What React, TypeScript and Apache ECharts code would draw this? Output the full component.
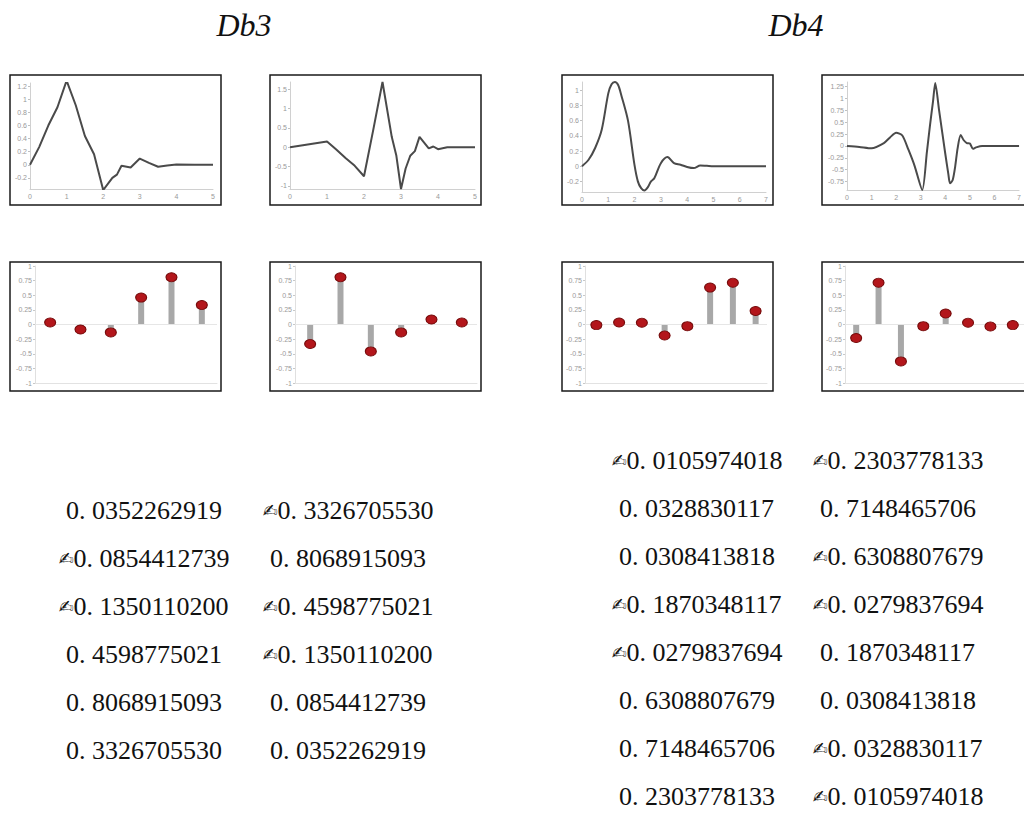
import React, { useEffect, useRef } from "react";
import * as echarts from "echarts";

// ---------- data ----------
const titles = ["Db3", "Db4"];

const db3PhiX = [0, 0.25, 0.5, 0.75, 1, 1.25, 1.5, 1.75, 2, 2.25, 2.375, 2.5, 2.75, 3, 3.25, 3.5, 3.75, 4, 4.5, 5];
const db3PhiY = [0, 0.27, 0.6, 0.88, 1.286, 0.91, 0.44, 0.16, -0.386, -0.2, -0.15, -0.015, -0.04, 0.095, 0.03, -0.03, -0.01, 0.004, 0, 0];

const db3PsiX = [0, 1, 1.25, 1.5, 1.75, 2, 2.25, 2.5, 2.75, 2.875, 3, 3.125, 3.25, 3.375, 3.5, 3.75, 3.875, 4, 4.25, 5];
const db3PsiY = [0, 0.15, -0.06, -0.28, -0.48, -0.75, 0.45, 1.69, 0.27, -0.22, -1.08, -0.55, -0.22, -0.1, 0.27, -0.03, 0.02, -0.05, 0, 0];

const db4PhiX = [0, 0.25, 0.5, 0.75, 1, 1.125, 1.25, 1.375, 1.5, 1.75, 2, 2.125, 2.25, 2.375, 2.5, 2.625, 2.75, 3, 3.25, 3.5, 3.75, 4, 4.25, 4.5, 4.75, 5, 5.5, 6, 7];
const db4PhiY = [0, 0.085, 0.24, 0.48, 0.96, 1.08, 1.11, 1.07, 0.93, 0.6, 0.01, -0.2, -0.29, -0.32, -0.28, -0.2, -0.16, 0.04, 0.12, 0.04, 0.02, -0.01, -0.025, 0.01, 0.005, 0, 0, 0, 0];

const db4PsiX = [0, 0.5, 1, 1.5, 1.75, 2, 2.25, 2.5, 2.75, 3.0625, 3.25, 3.375, 3.5, 3.59, 3.75, 4, 4.125, 4.19, 4.3, 4.4, 4.5, 4.625, 4.75, 4.875, 5, 5.125, 5.25, 5.5, 6, 7];
const db4PsiY = [0, -0.02, -0.05, 0.06, 0.18, 0.28, 0.22, -0.08, -0.42, -0.93, -0.13, 0.43, 0.94, 1.33, 0.74, -0.17, -0.6, -0.79, -0.72, -0.44, -0.05, 0.23, 0.12, 0.06, 0.05, -0.06, -0.03, 0, 0, 0];

const db3Low = [0.0352262919, -0.0854412739, -0.13501102, 0.4598775021, 0.8068915093, 0.332670553];
const db3High = [-0.332670553, 0.8068915093, -0.4598775021, -0.13501102, 0.0854412739, 0.0352262919];
const db4Low = [-0.0105974018, 0.0328830117, 0.0308413818, -0.1870348117, -0.0279837694, 0.6308807679, 0.7148465706, 0.2303778133];
const db4High = [-0.2303778133, 0.7148465706, -0.6308807679, -0.0279837694, 0.1870348117, 0.0308413818, -0.0328830117, -0.0105974018];

// ---------- layout ----------
const lineDefs = [
  { x: db3PhiX, y: db3PhiY, xMax: 5, yMin: -0.37, yMax: 1.25, step: 0.2, smooth: false, grid: { left: 30, top: 83, width: 183, height: 106 } },
  { x: db3PsiX, y: db3PsiY, xMax: 5, yMin: -1.08, yMax: 1.69, step: 0.5, smooth: false, grid: { left: 290, top: 82, width: 185, height: 107 } },
  { x: db4PhiX, y: db4PhiY, xMax: 7, yMin: -0.34, yMax: 1.11, step: 0.2, smooth: 0.3, grid: { left: 582, top: 82, width: 184, height: 110 } },
  { x: db4PsiX, y: db4PsiY, xMax: 7, yMin: -0.93, yMax: 1.35, step: 0.25, smooth: 0.25, grid: { left: 847, top: 82, width: 179, height: 108 } },
];
const stemDefs = [
  { v: db3Low, grid: { left: 35, top: 266, width: 182, height: 117 } },
  { v: db3High, grid: { left: 295, top: 266, width: 182, height: 117 } },
  { v: db4Low, grid: { left: 585, top: 266, width: 182, height: 117 } },
  { v: db4High, grid: { left: 845, top: 266, width: 182, height: 117 } },
];
const boxes = [
  [10, 75, 211, 130], [270, 75, 211, 130], [562, 75, 211, 130], [822, 75, 213, 130],
  [10, 262, 211, 129], [270, 262, 211, 129], [562, 262, 211, 129], [822, 262, 213, 129],
];

const NUM_FONT = 26;
const NUM_W = 156;
const MINUS_W = 15;

function fmt(v: number) {
  const s = Math.abs(v).toFixed(10);
  return s.replace(".", ". ");
}

export default function App() {
  const ref = useRef<HTMLDivElement>(null);
  useEffect(() => {
    if (!ref.current) return;
    const chart = echarts.init(ref.current, undefined, { renderer: "svg" });
    const labelStyle = { color: "#999999", fontSize: 7, fontFamily: "Liberation Sans" };
    const grids: any[] = [];
    const xAxes: any[] = [];
    const yAxes: any[] = [];
    const series: any[] = [];

    lineDefs.forEach((d, i) => {
      grids.push({ ...d.grid, containLabel: false });
      xAxes.push({
        gridIndex: i, type: "value", min: 0, max: d.xMax, interval: 1,
        axisLine: { onZero: false, lineStyle: { color: "#d0d0d0" } },
        axisTick: { show: false },
        axisLabel: { ...labelStyle, margin: 4 },
        splitLine: { show: false },
      });
      yAxes.push({
        gridIndex: i, type: "value", min: d.yMin, max: d.yMax,
        minInterval: d.step, maxInterval: d.step, splitNumber: 8,
        axisLine: { show: true, lineStyle: { color: "#d0d0d0" } },
        axisTick: { show: true, length: 2, lineStyle: { color: "#c0c0c0" } },
        axisLabel: { ...labelStyle, margin: 3, showMinLabel: false, showMaxLabel: false },
        splitLine: { show: false },
      });
      series.push({
        type: "line", xAxisIndex: i, yAxisIndex: i, smooth: d.smooth, showSymbol: false,
        data: d.x.map((xv, k) => [xv, d.y[k]]),
        lineStyle: { color: "#4a4a4a", width: 2 },
      });
    });

    stemDefs.forEach((d, j) => {
      const i = j + 4;
      grids.push({ ...d.grid, containLabel: false });
      xAxes.push({
        gridIndex: i, type: "category", data: d.v.map((_, k) => String(k + 1)),
        axisLine: { onZero: false, lineStyle: { color: "#e2e2e2" } },
        axisTick: { show: false }, axisLabel: { show: false }, splitLine: { show: false },
      });
      yAxes.push({
        gridIndex: i, type: "value", min: -1, max: 1, interval: 0.25,
        axisLine: { show: true, lineStyle: { color: "#e0e0e0" } },
        axisTick: { show: true, length: 2, lineStyle: { color: "#c8c8c8" } },
        axisLabel: { ...labelStyle, margin: 3 },
        splitLine: { show: false },
      });
      series.push({
        type: "bar", xAxisIndex: i, yAxisIndex: i, data: d.v, barWidth: 6,
        itemStyle: { color: "#a8a8a8" },
        markLine: {
          silent: true, symbol: "none", label: { show: false },
          lineStyle: { color: "#e6e6e6", type: "solid", width: 1 },
          data: [{ yAxis: 0 }],
        },
      });
      series.push({
        type: "scatter", xAxisIndex: i, yAxisIndex: i, data: d.v, symbol: "circle",
        symbolSize: [11, 9],
        itemStyle: { color: "#b3161b", borderColor: "#760b0b", borderWidth: 1, opacity: 1 },
        z: 5,
      });
    });

    const graphic: any[] = [];
    boxes.forEach(([x, y, w, h]) => {
      graphic.push({
        type: "rect", shape: { x, y, width: w, height: h },
        style: { fill: "none", stroke: "#1a1a1a", lineWidth: 1.5 }, silent: true,
      });
    });
    const titleX = [244, 796];
    titles.forEach((t, k) => {
      graphic.push({
        type: "text", x: titleX[k], y: 25,
        style: { text: t, font: 'italic 32px "Liberation Serif"', fill: "#111", align: "center", verticalAlign: "middle", textAlign: "center", textVerticalAlign: "middle" },
      });
    });

    const cols = [
      { vals: db3Low, cx: 144, y0: 510 },
      { vals: db3High, cx: 348, y0: 510 },
      { vals: db4Low, cx: 697, y0: 460 },
      { vals: db4High, cx: 898, y0: 460 },
    ];
    const numFont = `${NUM_FONT}px "Liberation Serif"`;
    cols.forEach((c) => {
      c.vals.forEach((v, r) => {
        const y = c.y0 + r * 48;
        const neg = v < 0;
        const x0 = neg ? c.cx - (NUM_W + MINUS_W) / 2 : c.cx - NUM_W / 2;
        graphic.push({
          type: "text", x: x0, y,
          style: {
            text: neg ? `{m|\u270D}{n|${fmt(v)}}` : `{n|${fmt(v)}}`,
            rich: {
              m: { font: '18px "DejaVu Sans"', fill: "#111", color: "#111", verticalAlign: "middle" },
              n: { font: numFont, fill: "#111", color: "#111", verticalAlign: "middle" },
            },
            font: numFont, fill: "#111",
            align: "left", verticalAlign: "middle", textAlign: "left", textVerticalAlign: "middle",
          },
        });
      });
    });

    chart.setOption({
      animation: false,
      backgroundColor: "#ffffff",
      grid: grids,
      xAxis: xAxes,
      yAxis: yAxes,
      series,
      graphic,
    });
    return () => chart.dispose();
  }, []);
  return <div ref={ref} style={{ position: "absolute", left: 0, top: 0, width: 1024, height: 832 }} />;
}
